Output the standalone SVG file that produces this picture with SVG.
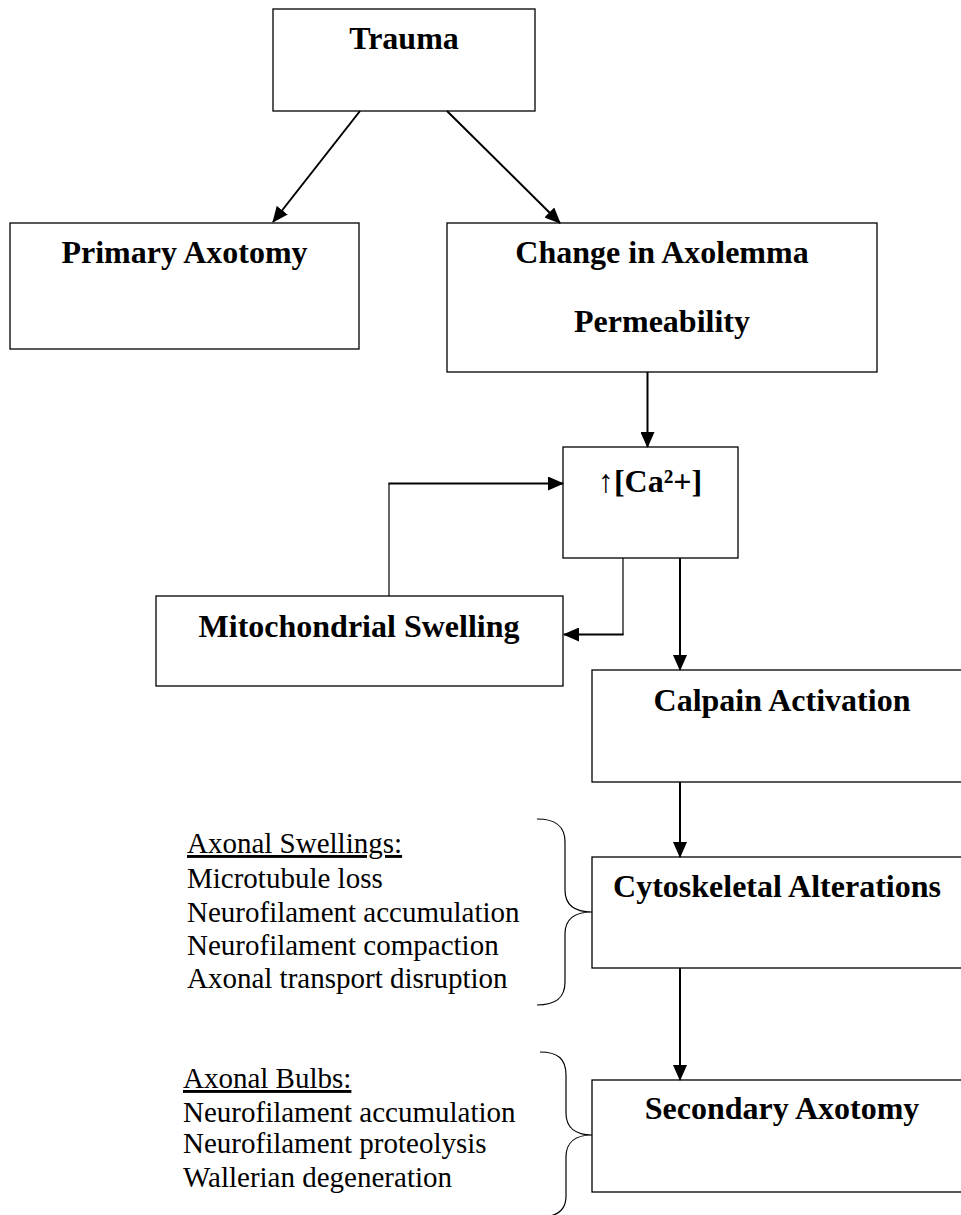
<svg xmlns="http://www.w3.org/2000/svg" width="961" height="1215" viewBox="0 0 961 1215">
<style>
.box{fill:#fff;stroke:#000;stroke-width:1.3}
.t{font-family:"Liberation Serif","Times New Roman",serif;font-weight:bold;font-size:32px;fill:#000;text-anchor:middle}
.l{font-family:"Liberation Serif","Times New Roman",serif;font-size:29px;fill:#000}
.c{fill:none;stroke:#000;stroke-width:2}
.c1{fill:none;stroke:#000;stroke-width:1.2}
.br{fill:none;stroke:#000;stroke-width:1.2}
</style>
<defs>
<marker id="ah" markerUnits="userSpaceOnUse" markerWidth="16" markerHeight="14" refX="15" refY="7" orient="auto">
<path d="M0,0 L16,7 L0,14 Z" fill="#000"/>
</marker>
</defs>
<rect width="961" height="1215" fill="#fff"/>
<g id="trauma"><rect class="box" x="273" y="9" width="262" height="102"/><text class="t" x="404" y="49">Trauma</text></g>
<g id="primary"><rect class="box" x="10" y="223" width="349" height="126"/><text class="t" x="184.5" y="263">Primary Axotomy</text></g>
<g id="change"><rect class="box" x="447" y="223" width="430" height="149"/><text class="t" x="662" y="263">Change in Axolemma</text><text class="t" x="662" y="332">Permeability</text></g>
<g id="ca"><rect class="box" x="563" y="447" width="175" height="111"/><text class="t" x="650" y="492">↑[Ca²+]</text></g>
<g id="mito"><rect class="box" x="156" y="596" width="407" height="90"/><text class="t" x="359" y="637">Mitochondrial Swelling</text></g>
<g id="calpain"><rect class="box" x="592" y="670" width="380" height="112"/><text class="t" x="782" y="711">Calpain Activation</text></g>
<g id="cyto"><rect class="box" x="592" y="857" width="380" height="111"/><text class="t" x="777" y="897">Cytoskeletal Alterations</text></g>
<g id="secondary"><rect class="box" x="592" y="1080" width="380" height="112"/><text class="t" x="782" y="1119">Secondary Axotomy</text></g>
<g id="swellings">
<text class="l" x="187" y="853" text-decoration="underline">Axonal Swellings:</text>
<text class="l" x="187" y="888">Microtubule loss</text>
<text class="l" x="187" y="922">Neurofilament accumulation</text>
<text class="l" x="187" y="955">Neurofilament compaction</text>
<text class="l" x="187" y="988">Axonal transport disruption</text>
<path class="br" d="M537,819 C556,819 565,826 565,842 L565,890 C565,905 575,912 592,912 C575,912 565,919 565,934 L565,982 C565,998 556,1005 537,1005"/>
</g>
<g id="bulbs">
<text class="l" x="183" y="1088" text-decoration="underline">Axonal Bulbs:</text>
<text class="l" x="183" y="1122">Neurofilament accumulation</text>
<text class="l" x="183" y="1153">Neurofilament proteolysis</text>
<text class="l" x="183" y="1187">Wallerian degeneration</text>
<path class="br" d="M540,1052 C558,1052 566,1059 566,1075 L566,1113 C566,1128 576,1135 592,1135 C576,1135 566,1142 566,1157 L566,1196 C566,1210 558,1217 540,1217"/>
</g>
<g id="connectors">
<line class="c" x1="360" y1="111" x2="273" y2="222" marker-end="url(#ah)"/>
<line class="c" x1="447" y1="111" x2="560" y2="223" marker-end="url(#ah)"/>
<line class="c" x1="647.5" y1="372" x2="647.5" y2="447" marker-end="url(#ah)"/>
<line class="c1" x1="389" y1="596" x2="389" y2="483.5"/>
<line class="c" x1="388.4" y1="483.5" x2="563" y2="483.5" marker-end="url(#ah)"/>
<line class="c1" x1="623" y1="558" x2="623" y2="634.5"/>
<line class="c" x1="623.6" y1="634.5" x2="564" y2="634.5" marker-end="url(#ah)"/>
<line class="c" x1="680" y1="558" x2="680" y2="670" marker-end="url(#ah)"/>
<line class="c" x1="680" y1="782" x2="680" y2="857" marker-end="url(#ah)"/>
<line class="c" x1="680" y1="968" x2="680" y2="1080" marker-end="url(#ah)"/>
</g>
</svg>
